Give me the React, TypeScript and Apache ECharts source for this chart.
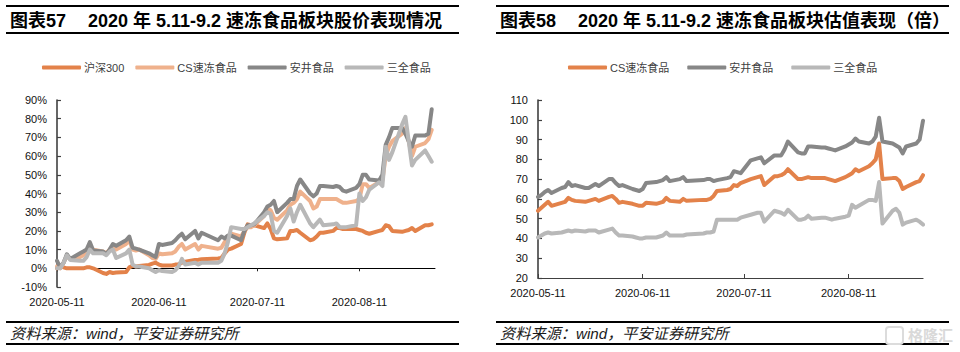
import React, { useEffect, useRef } from "react";
import * as echarts from "echarts";

const tradeDates = [
  "05-11","05-12","05-13","05-14","05-15","05-18","05-19","05-20","05-21","05-22",
  "05-25","05-26","05-27","05-28","05-29","06-01","06-02","06-03","06-04","06-05",
  "06-08","06-09","06-10","06-11","06-12","06-15","06-16","06-17","06-18","06-19",
  "06-22","06-23","06-24","06-29","06-30","07-01","07-02","07-03","07-06","07-07",
  "07-08","07-09","07-10","07-13","07-14","07-15","07-16","07-17","07-20","07-21",
  "07-22","07-23","07-24","07-27","07-28","07-29","07-30","07-31","08-03","08-04",
  "08-05","08-06","08-07","08-10","08-11","08-12","08-13","08-14","08-17","08-18",
  "08-19","08-20","08-21","08-24","08-25","08-26","08-27","08-28","08-31","09-01","09-02",
].map((d) => "2020-" + d);

const xTickDates = ["2020-05-11", "2020-06-11", "2020-07-11", "2020-08-11"];

const hs300 = [
  0,1,0.5,0,0, 0,0,0.5,0.5,0, -2.5,-3,-2,-2.5,-2.3, -2,0.5,1.3,1,1.2,
  1.8,2.5,3,2,1.5, 1.5,2,2.2,3,3.5, 4.5,4.6,4.8, 5.2,5.5, 8,10,10.5,
  13,19,23.5,23,23, 21.5,24,21,16,15.5, 16,20,20,20.5,19, 15,15.5,17,19,19,
  20,21.5,21.5,21,21, 21,20.5,20,19,18.5, 20,20.5,23,22.5,20, 19.5,20,20.5,21.5,20, 23,23,23.5,
];
const csLeft = [
  1,0,3,6.5,5, 6,7,9,12,10, 9,8,10,11,10, 13,15,10,9.5,10,
  7,5.5,5,8,7.5, 8,9,11.5,13,10, 13,10,12, 10.5,11, 14,17,18.5,
  17,20,22,22,23, 28,32,31,27,26, 31,34,35,37,41, 36,32,33,37,37,
  37,37,36,35,35, 36,37,45,45,43, 46,47,60,65,68, 72,75,68,60,65, 67,69,74,
];
const anjingLeft = [
  4,0.5,3,7.5,5, 8,9,10,14,9.5, 9,7.5,10,13,12, 15,17,11,10.5,10,
  8,7,6,13,12.5, 13.5,15,17,18.5,15.5, 20,16,19, 15,17, 16,17.5,17.5,
  15,20,23,23,23.5, 30,33,34,36,30, 35,37,37,44,47.5, 40,38.5,40,44,44,
  43.5,44,43.5,41.5,41, 43,45,50,50,47.5, 47,50,66,70,75, 75,72,68,65,71, 71,72,85,
];
const sanquanLeft = [
  0,0,3,7,4.5, 4,4,6,10,8, 8,7,9,10,5.5, 8,10,2,1,1,
  0,-1,-2,-1,-1.5, -2,-1,1,5,2, 3,2,3, 3,4, 8,14,22,
  21,21,22,23,24, 28,30,29,20,19, 28,32,25,30,34, 24,22,24,26,23,
  23.5,24,22,22,22, 23,40,36,38,42, 46,44,65,58,62, 77,81,68,55,58, 63,60,57,
];

const csRight = [
  54,55.5,57,58.5,56.5, 58,58.5,60.5,59.5,59, 58.5,59,59.5,60,59, 61,61.5,60,58,58.5,
  57.5,57,56.5,56.5,58, 57.5,58,58.5,60.5,59, 58.5,60,59, 59.5,59.5, 60,61.5,64,
  64.5,65,67,66.5,68, 70,70.5,71,71.5,67, 71.5,71.5,72,73,75, 70,70,70.5,71,70.5,
  70.5,70.5,70,69.5,69, 71,72,73,75,74, 76.5,78,80,88,70, 70.5,70.5,69,65,66, 68.5,69,72,
];
const anjingRight = [
  61,62,63.5,64.5,63, 65.5,66,68.5,66.5,67, 65.5,65.5,66.5,67.5,66.5, 70,70,68,66.5,67,
  65,64.5,64,65,68, 68.5,69,69.5,71,69, 70,71,69, 69.5,70, 70,69,69.5,
  70.5,71,74,73.5,73, 79.5,80,80.5,81,78, 82,82,82,85,89, 83.5,83,83,86.5,86.5,
  86,86,85.5,85,84.5, 86.5,87.5,88.5,90.5,89, 88,89,91.5,101,89, 88,87,86,83,86.5, 88,90,99.5,
];
const sanquanRight = [
  40.5,41.5,42.5,43,42.5, 43,43.5,44,43.5,44, 43.5,44,44,44,43, 44.5,45,43,41.5,41.5,
  41,40.5,40,40,40.5, 40.5,41,41.5,43,41.5, 41.5,41.5,42, 42.5,43, 43,43.5,49.5,
  49.5,49.5,49.5,49.5,50.5, 52,52.5,53,53,48.5, 54,53.5,53,52,54.5, 49.5,49.5,50,51.5,50,
  50.5,50.5,50,49.5,50, 51,51.5,57,55.5,56.5, 59.5,59.5,59,68.5,47.5, 54,55,53,47,48, 49.5,48.5,47,
];

const ORANGE = "#E3824A";
const PEACH = "#EFB18C";
const GRAY = "#878787";
const SILVER = "#B8B8B8";
const LATIN = "'Liberation Sans','Noto Sans CJK SC',sans-serif";

const ts = (d: string) => new Date(d + "T00:00:00").getTime();
const pad = (n: number) => String(n).padStart(2, "0");
const fmtDate = (v: number) => {
  const d = new Date(v);
  return `${d.getFullYear()}-${pad(d.getMonth() + 1)}-${pad(d.getDate())}`;
};
const pairs = (vals: number[]) => tradeDates.map((d, i) => [ts(d), vals[i]]);

function frame(title: string, x0: number, x1: number, titleLeft: string, leftAt: number, restAt: number) {
  const rule = (y: number) => ({
    type: "rect",
    silent: true,
    shape: { x: x0, y, width: x1 - x0, height: 2 },
    style: { fill: "#000" },
  });
  const txt = (x: number, y: number, text: string, font: string, fill = "#000") => ({
    type: "text",
    silent: true,
    x,
    y,
    style: { text, font, fill, textVerticalAlign: "middle" },
  });
  return [
    rule(5),
    rule(32),
    rule(321),
    rule(343),
    txt(leftAt, 20.5, titleLeft, `bold 18px ${LATIN}`),
    txt(restAt, 20.5, title, `bold 18px ${LATIN}`),
    txt(leftAt, 333, "资料来源：wind，平安证券研究所", `italic 15.2px ${LATIN}`, "#1a1a1a"),
  ];
}

function axisBits(maxDate: string) {
  return {
    type: "value" as const,
    min: ts("2020-05-11"),
    max: ts(maxDate),
    splitLine: { show: false },
    minorTick: { show: false },
  };
}

function lineSeries(name: string, color: string, vals: number[]) {
  return {
    name,
    type: "line",
    data: pairs(vals),
    showSymbol: false,
    symbol: "none",
    lineStyle: { color, width: 4, cap: "round", join: "round" },
    itemStyle: { color },
  };
}

const legendBase = {
  icon: "roundRect",
  itemWidth: 39,
  itemHeight: 4,
  itemGap: 11,
  top: 57,
  selectedMode: false,
  textStyle: { fontSize: 11, color: "#404040", fontFamily: LATIN, padding: [0, 0, 0, -2] },
};

const leftOption = {
  animation: false,
  grid: { left: 57, right: 45, top: 100, bottom: 65 },
  legend: { ...legendBase, left: 37, data: ["沪深300", "CS速冻食品", "安井食品", "三全食品"] },
  xAxis: [
    {
      ...axisBits("2020-09-03"),
      position: "bottom",
      axisLine: { show: false, onZero: false },
      axisTick: { show: false },
      axisLabel: {
        customValues: xTickDates.map(ts),
        formatter: (v: number) => fmtDate(v),
        fontSize: 11,
        color: "#111",
        fontFamily: LATIN,
        margin: 9,
        hideOverlap: false,
        showMinLabel: true,
      },
    },
    {
      ...axisBits("2020-09-03"),
      axisLine: { show: true, onZero: true, lineStyle: { color: "#000", width: 1 } },
      axisTick: { show: true, inside: true, length: 3, customValues: xTickDates.map(ts), lineStyle: { color: "#222" } },
      axisLabel: { show: false },
    },
  ],
  yAxis: {
    type: "value",
    min: -10,
    max: 90,
    interval: 10,
    splitLine: { show: false },
    axisLine: { show: true, onZero: false, lineStyle: { color: "#404040", width: 1.6 } },
    axisTick: { show: true, inside: true, length: 4, lineStyle: { color: "#404040", width: 1.2 } },
    axisLabel: { formatter: "{value}%", fontSize: 11, color: "#111", fontFamily: LATIN, margin: 10 },
  },
  series: [
    lineSeries("沪深300", ORANGE, hs300),
    lineSeries("CS速冻食品", PEACH, csLeft),
    lineSeries("安井食品", GRAY, anjingLeft),
    lineSeries("三全食品", SILVER, sanquanLeft),
  ],
  graphic: frame("2020 年 5.11-9.2 速冻食品板块股价表现情况", 6, 459, "图表57", 10, 88),
};

const rightOption = {
  animation: false,
  grid: { left: 58, right: 37, top: 100, bottom: 74 },
  legend: { ...legendBase, itemGap: 18, left: 83, data: ["CS速冻食品", "安井食品", "三全食品"] },
  xAxis: {
    ...axisBits("2020-09-02"),
    axisLine: { show: true, onZero: false, lineStyle: { color: "#404040", width: 1.2 } },
    axisTick: { show: true, inside: true, length: 4, customValues: xTickDates.map(ts), lineStyle: { color: "#404040" } },
    axisLabel: {
      customValues: xTickDates.map(ts),
      formatter: (v: number) => fmtDate(v),
      fontSize: 11,
      color: "#111",
      fontFamily: LATIN,
      margin: 9,
      showMinLabel: true,
      hideOverlap: false,
    },
  },
  yAxis: {
    type: "value",
    min: 20,
    max: 110,
    interval: 10,
    splitLine: { show: false },
    axisLine: { show: true, onZero: false, lineStyle: { color: "#404040", width: 1.6 } },
    axisTick: { show: true, inside: true, length: 4, lineStyle: { color: "#404040", width: 1.2 } },
    axisLabel: { fontSize: 11, color: "#111", fontFamily: LATIN, margin: 10 },
  },
  series: [
    lineSeries("CS速冻食品", ORANGE, csRight),
    lineSeries("安井食品", GRAY, anjingRight),
    lineSeries("三全食品", SILVER, sanquanRight),
  ],
  graphic: [
    ...frame("2020 年 5.11-9.2 速冻食品板块估值表现（倍）", 16, 469, "图表58", 20, 98),
    {
      type: "rect",
      silent: true,
      shape: { x: 406, y: 327, width: 17, height: 17, r: 3 },
      style: { fill: "none", stroke: "#dcdcdc", lineWidth: 2 },
    },
    {
      type: "text",
      silent: true,
      x: 428,
      y: 335,
      style: { text: "格隆汇", font: `bold 15px ${LATIN}`, fill: "#d9d9d9", textVerticalAlign: "middle" },
    },
  ],
};

function Panel({ option }: { option: any }) {
  const ref = useRef<HTMLDivElement>(null);
  useEffect(() => {
    const chart = echarts.init(ref.current as HTMLDivElement, undefined, { renderer: "svg" });
    chart.setOption(option);
    return () => chart.dispose();
  }, [option]);
  return <div ref={ref} style={{ width: 480, height: 352 }} />;
}

export default function App() {
  return (
    <div style={{ position: "fixed", left: 0, top: 0, width: 960, height: 352, display: "flex", background: "#fff" }}>
      <Panel option={leftOption} />
      <Panel option={rightOption} />
    </div>
  );
}
